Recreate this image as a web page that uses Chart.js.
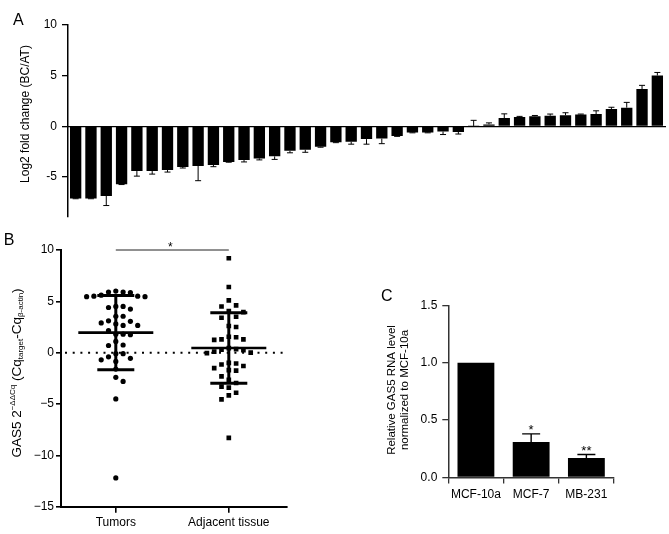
<!DOCTYPE html>
<html><head><meta charset="utf-8">
<script src="https://cdn.jsdelivr.net/npm/chart.js@4.4.1/dist/chart.umd.min.js"></script>
<style>
html,body{margin:0;padding:0;background:#fff;width:669px;height:534px;overflow:hidden;}
.p{position:absolute;}
</style></head><body>
<div class="p" style="left:0;top:0;width:669px;height:230px"><canvas id="ca"></canvas></div>
<div class="p" style="left:0;top:230px;width:300px;height:304px"><canvas id="cb"></canvas></div>
<div class="p" style="left:380px;top:280px;width:289px;height:254px"><canvas id="cc"></canvas></div>
<script>
// ---------- Panel A data ----------
const aSamples = Array.from({length: 39}, (_, i) => 'S' + (i + 1));
const aLog2FC = [-7.1, -7.1, -6.85, -5.7, -4.4, -4.4, -4.3, -4.0, -3.9, -3.8,
                 -3.5, -3.3, -3.15, -2.95, -2.4, -2.3, -2.0, -1.55, -1.5, -1.25,
                 -1.2, -0.95, -0.6, -0.6, -0.5, -0.55, 0.05, 0.2, 0.82, 0.92,
                 1.0, 1.05, 1.1, 1.18, 1.22, 1.72, 1.85, 3.68, 5.02];
const aError = [0.03, 0.03, 0.95, 0.03, 0.5, 0.3, 0.2, 0.1, 1.45, 0.17,
                0.03, 0.2, 0.15, 0.3, 0.2, 0.25, 0.05, 0.05, 0.25, 0.5,
                0.5, 0.03, 0.03, 0.03, 0.3, 0.2, 0.55, 0.15, 0.42, 0.07,
                0.08, 0.17, 0.25, 0.04, 0.32, 0.17, 0.52, 0.37, 0.3];

// ---------- Panel B data ----------
const bGroups = ['Tumors', 'Adjacent tissue'];
const bTumors = [6.0, 5.9, 5.9, 5.85, 5.6, 5.5, 5.5, 5.45, 5.45, 4.5,
                 4.5, 4.4, 4.25, 3.55, 3.55, 3.1, 3.05, 2.9, 2.8, 2.65,
                 2.65, 2.15, 1.8, 1.8, 1.75, 1.1, 0.75, 0.7, -0.1, -0.1,
                 -0.4, -0.55, -0.7, -0.85, -1.6, -2.4, -2.8, -4.5, -12.2];
const bAdjacent = [9.2, 6.4, 5.1, 4.6, 4.5, 4.05, 3.95, 3.5, 3.4, 2.6,
                   2.5, 1.55, 1.5, 1.3, 1.3, 1.25, 0.45, 0.35, 0.3, 0.25,
                   0.1, 0.0, -0.05, -1.0, -1.05, -1.15, -1.3, -1.5, -1.7, -1.75,
                   -2.3, -2.65, -2.95, -3.3, -3.4, -3.9, -4.15, -4.55, -8.3];
const bMean = [1.95, 0.45];
const bSD = [3.62, 3.43];

// ---------- Panel C data ----------
const cLines = ['MCF-10a', 'MCF-7', 'MB-231'];
const cLevel = [1.0, 0.31, 0.17];
const cError = [0, 0.07, 0.03];
const cSig = ['', '*', '**'];

// ---------- shared ----------
const FONT = '"Liberation Sans", Arial, Helvetica, sans-serif';
Chart.defaults.font.family = FONT;
Chart.defaults.font.size = 12;
Chart.defaults.color = '#000';
Chart.defaults.animation = false;

function textPlugin(id, items) {
  return {
    id,
    afterDraw(chart) {
      const ctx = chart.ctx;
      items.forEach(it => {
        ctx.save();
        ctx.fillStyle = '#000';
        ctx.translate(it.x, it.y);
        if (it.rot) ctx.rotate(it.rot);
        ctx.textBaseline = 'middle';
        if (it.segments) {
          let total = 0;
          it.segments.forEach(s => { ctx.font = s.size + 'px ' + FONT; total += ctx.measureText(s.t).width; });
          let xx = -total / 2;
          ctx.textAlign = 'left';
          it.segments.forEach(s => {
            ctx.font = s.size + 'px ' + FONT;
            ctx.fillText(s.t, xx, s.dy || 0);
            xx += ctx.measureText(s.t).width;
          });
        } else {
          ctx.textAlign = 'center';
          ctx.font = it.size + 'px ' + FONT;
          ctx.fillText(it.text, 0, 0);
        }
        ctx.restore();
      });
    }
  };
}

// ---------- Panel A ----------
const aErrPlugin = {
  id: 'aErr',
  afterDatasetsDraw(chart) {
    const {ctx} = chart;
    const y = chart.scales.y;
    const meta = chart.getDatasetMeta(0);
    ctx.save();
    ctx.strokeStyle = '#000';
    ctx.lineWidth = 1;
    meta.data.forEach((bar, i) => {
      const v = aLog2FC[i];
      const s = v >= 0 ? 1 : -1;
      const yEnd = y.getPixelForValue(v + s * aError[i]);
      ctx.beginPath();
      ctx.moveTo(bar.x, bar.y);
      ctx.lineTo(bar.x, yEnd);
      ctx.moveTo(bar.x - 3, yEnd);
      ctx.lineTo(bar.x + 3, yEnd);
      ctx.stroke();
    });
    ctx.restore();
  }
};

new Chart(document.getElementById('ca'), {
  type: 'bar',
  data: {
    labels: aSamples,
    datasets: [{data: aLog2FC, backgroundColor: '#000', barPercentage: 0.74, categoryPercentage: 1}]
  },
  options: {
    responsive: true, maintainAspectRatio: false,
    layout: {padding: {top: 25, right: 4, bottom: 13.3, left: 0}},
    plugins: {legend: {display: false}, tooltip: {enabled: false}},
    scales: {
      x: {
        position: {y: 0},
        grid: {display: false},
        ticks: {display: false},
        border: {color: '#000', width: 1.2}
      },
      y: {
        min: -8.9, max: 10,
        ticks: {stepSize: 5, padding: 5, font: {size: 12}, callback: v => String(v)},
        afterBuildTicks: s => { s.ticks = s.ticks.filter(t => Math.abs(t.value % 5) < 1e-9); },
        afterFit: s => { s.width = 68; },
        grid: {display: true, drawOnChartArea: false, drawTicks: true, tickLength: 6, color: '#000', lineWidth: 1.3},
        border: {color: '#000', width: 1.5}
      }
    }
  },
  plugins: [aErrPlugin, textPlugin('aText', [
    {text: 'A', x: 18.3, y: 21, size: 16},
    {text: 'Log2 fold change (BC/AT)', x: 25.5, y: 114, size: 12, rot: -Math.PI / 2}
  ])]
});

// ---------- Panel B ----------
const bPos = bGroups.map((_, i) => 1 + 2 * i);
function swarm(values, pxPerY, pxPerX, step, dist) {
  const order = values.map((_, i) => i).sort((a, b) => values[b] - values[a]);
  const placed = [];
  const off = new Array(values.length).fill(0);
  order.forEach(i => {
    const py = values[i] * pxPerY;
    for (let k = 0; k < 40; k++) {
      const m = k === 0 ? 0 : (k % 2 ? 1 : -1) * Math.ceil(k / 2);
      const px = m * step;
      const hit = placed.some(p => Math.hypot(p[0] - px, p[1] - py) < dist);
      if (!hit) { placed.push([px, py]); off[i] = px / pxPerX; break; }
    }
  });
  return off;
}
const tOff = swarm(bTumors, 10.27, 56.5, 7.3, 6.9);
const aOff = swarm(bAdjacent, 10.27, 56.5, 7.3, 6.9);

const bOverlay = {
  id: 'bOverlay',
  beforeDatasetsDraw(chart) {
    const {ctx, chartArea: a, scales: {y}} = chart;
    const y0 = y.getPixelForValue(0);
    ctx.save();
    ctx.setLineDash([2, 5.7]);
    ctx.lineWidth = 2;
    ctx.strokeStyle = '#000';
    ctx.beginPath();
    ctx.moveTo(a.left + 4, y0);
    ctx.lineTo(a.right, y0);
    ctx.stroke();
    ctx.restore();
  },
  afterDatasetsDraw(chart) {
    const {ctx, scales: {x, y}} = chart;
    ctx.save();
    ctx.strokeStyle = '#000';
    bPos.forEach((p, g) => {
      const cx = x.getPixelForValue(p);
      const m = y.getPixelForValue(bMean[g]);
      const hi = y.getPixelForValue(bMean[g] + bSD[g]);
      const lo = y.getPixelForValue(bMean[g] - bSD[g]);
      ctx.lineWidth = 2.6;
      ctx.beginPath();
      ctx.moveTo(cx - 37.5, m); ctx.lineTo(cx + 37.5, m);
      ctx.stroke();
      ctx.lineWidth = 3;
      ctx.beginPath();
      ctx.moveTo(cx, hi); ctx.lineTo(cx, lo);
      ctx.moveTo(cx - 18.5, hi); ctx.lineTo(cx + 18.5, hi);
      ctx.moveTo(cx - 18.5, lo); ctx.lineTo(cx + 18.5, lo);
      ctx.stroke();
    });
    // significance bracket
    const x1 = x.getPixelForValue(bPos[0]);
    const x2 = x.getPixelForValue(bPos[1]);
    const ys = y.getPixelForValue(10);
    ctx.lineWidth = 1;
    ctx.strokeStyle = '#222';
    ctx.beginPath();
    ctx.moveTo(x1, ys); ctx.lineTo(x2, ys);
    ctx.stroke();
    ctx.fillStyle = '#000';
    ctx.font = '12px ' + FONT;
    ctx.textAlign = 'center';
    ctx.textBaseline = 'alphabetic';
    ctx.fillText('*', (x1 + x2) / 2 - 2, ys + 0.5);
    ctx.restore();
  }
};

new Chart(document.getElementById('cb'), {
  type: 'scatter',
  data: {
    datasets: [
      {data: bTumors.map((v, i) => ({x: bPos[0] + tOff[i], y: v})), pointStyle: 'circle',
       pointRadius: 2.6, backgroundColor: '#000', borderWidth: 0},
      {data: bAdjacent.map((v, i) => ({x: bPos[1] + aOff[i], y: v})), pointStyle: 'rect',
       pointRadius: 3.3, backgroundColor: '#000', borderWidth: 0}
    ]
  },
  options: {
    responsive: true, maintainAspectRatio: false,
    layout: {padding: {top: 20, right: 13, bottom: 0, left: 0}},
    plugins: {legend: {display: false}, tooltip: {enabled: false}},
    scales: {
      x: {
        type: 'linear', min: 0.03, max: 4.03,
        afterBuildTicks: s => { s.ticks = bPos.map(v => ({value: v})); },
        ticks: {callback: (v, i) => bGroups[i], padding: 3, font: {size: 12}, maxRotation: 0},
        afterFit: s => { s.height = 27.3; },
        grid: {display: true, drawOnChartArea: false, tickLength: 6, color: '#000', lineWidth: 1.6},
        border: {color: '#000', width: 2}
      },
      y: {
        min: -15, max: 10,
        ticks: {stepSize: 5, padding: 2, font: {size: 12},
                callback: v => v < 0 ? '\u2212' + Math.abs(v) : String(v)},
        afterFit: s => { s.width = 61; },
        grid: {display: true, drawOnChartArea: false, tickLength: 5, color: '#000', lineWidth: 1.6},
        border: {color: '#000', width: 2}
      }
    }
  },
  plugins: [bOverlay, textPlugin('bText', [
    {text: 'B', x: 9, y: 11, size: 16},
    {x: 17.5, y: 143, rot: -Math.PI / 2, segments: [
      {t: 'GAS5 2', size: 13.5},
      {t: '\u2212\u0394\u0394Cq', size: 8, dy: -5},
      {t: ' (Cq', size: 13.5},
      {t: 'target', size: 8, dy: 3.5},
      {t: '-Cq', size: 13.5},
      {t: '\u03b2-actin', size: 8, dy: 3.5},
      {t: ')', size: 13.5}
    ]}
  ])]
});

// ---------- Panel C ----------
const cOverlay = {
  id: 'cOverlay',
  afterDatasetsDraw(chart) {
    const {ctx, scales: {y}} = chart;
    const meta = chart.getDatasetMeta(0);
    ctx.save();
    ctx.strokeStyle = '#000';
    ctx.fillStyle = '#000';
    ctx.lineWidth = 1.4;
    meta.data.forEach((bar, i) => {
      const top = y.getPixelForValue(cLevel[i] + cError[i]);
      if (cError[i] > 0) {
        ctx.beginPath();
        ctx.moveTo(bar.x, bar.y); ctx.lineTo(bar.x, top);
        ctx.moveTo(bar.x - 9, top); ctx.lineTo(bar.x + 9, top);
        ctx.stroke();
      }
      if (cSig[i]) {
        ctx.font = '13px ' + FONT;
        ctx.textAlign = 'center';
        ctx.textBaseline = 'alphabetic';
        ctx.fillText(cSig[i], bar.x, top + 0.5);
      }
    });
    ctx.restore();
  }
};

new Chart(document.getElementById('cc'), {
  type: 'bar',
  data: {
    labels: cLines,
    datasets: [{data: cLevel, backgroundColor: '#000', barPercentage: 0.667, categoryPercentage: 1}]
  },
  options: {
    responsive: true, maintainAspectRatio: false,
    layout: {padding: {top: 25.3, right: 55, bottom: 31.5, left: 0}},
    plugins: {legend: {display: false}, tooltip: {enabled: false}},
    scales: {
      x: {
        ticks: {padding: 4, font: {size: 12}, maxRotation: 0},
        afterFit: s => { s.height = 25; },
        grid: {display: true, drawOnChartArea: false, tickLength: 6, color: '#333', lineWidth: 1.3},
        border: {color: '#333', width: 1.5}
      },
      y: {
        min: 0, max: 1.5,
        ticks: {stepSize: 0.5, padding: 5, font: {size: 12}, callback: v => v.toFixed(1)},
        afterFit: s => { s.width = 68.3; },
        grid: {display: true, drawOnChartArea: false, tickLength: 6, color: '#333', lineWidth: 1.3},
        border: {color: '#333', width: 1.5}
      }
    }
  },
  plugins: [cOverlay, textPlugin('cText', [
    {text: 'C', x: 6.7, y: 16.7, size: 16},
    {text: 'Relative GAS5 RNA level', x: 11.7, y: 110, size: 11.5, rot: -Math.PI / 2},
    {text: 'normalized to MCF-10a', x: 25, y: 110, size: 11.5, rot: -Math.PI / 2}
  ])]
});
</script>
</body></html>
